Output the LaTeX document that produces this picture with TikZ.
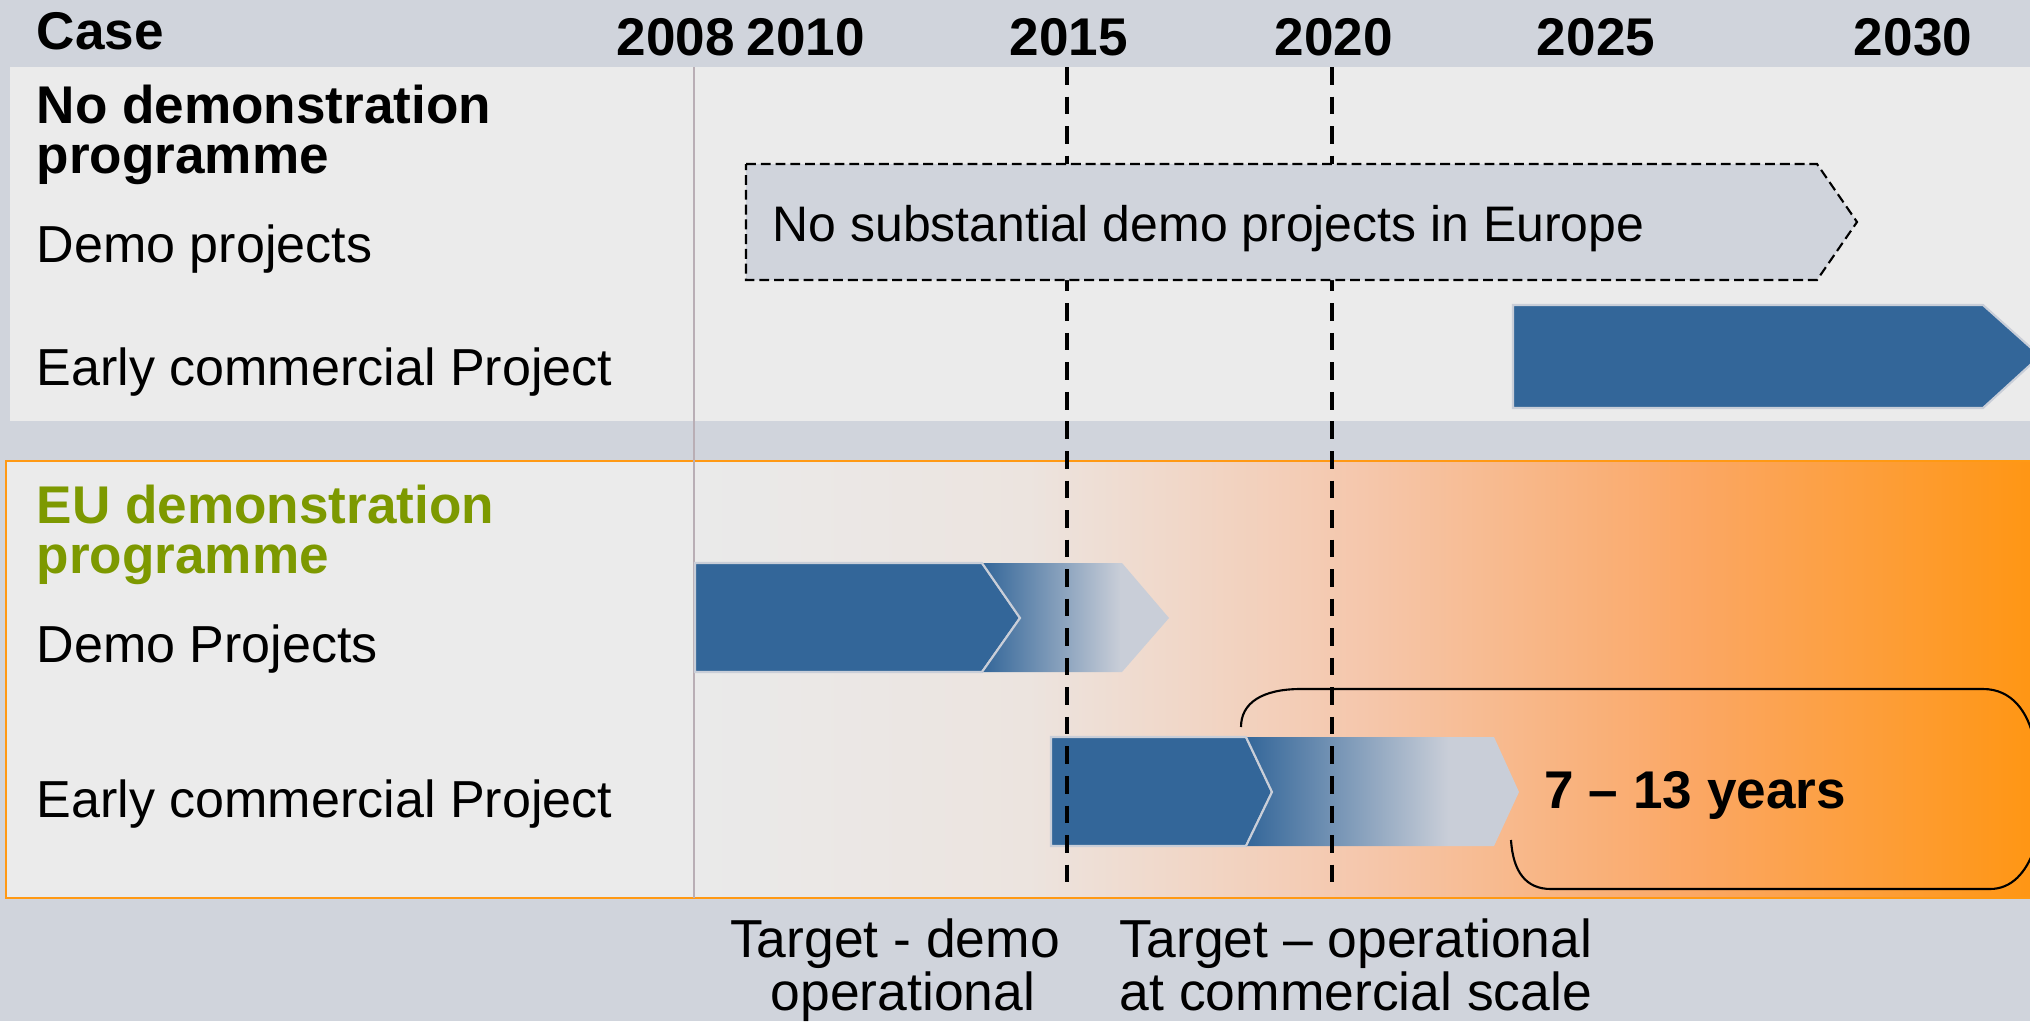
\documentclass[tikz,border=0pt]{standalone}
\usepackage{fontspec}
\setmainfont{Liberation Sans}
\usetikzlibrary{positioning}

\definecolor{bgray}{HTML}{D0D4DC}
\definecolor{lgray}{HTML}{EBEBEB}
\definecolor{barblue}{HTML}{336699}
\definecolor{fadegray}{HTML}{C9CED8}
\definecolor{eugreen}{HTML}{7D9900}
\definecolor{euorange}{HTML}{FF9914}
\definecolor{sepgray}{HTML}{B9AEB5}
\definecolor{eua}{HTML}{EAEAEA}
\definecolor{eub}{HTML}{ECE4DF}
\definecolor{euc}{HTML}{F1D6C6}
\definecolor{eud}{HTML}{F5C7AC}
\definecolor{eue}{HTML}{FBA764}
\definecolor{euf}{HTML}{FF9614}

\pgfdeclarehorizontalshading{eushade}{100bp}{color(0bp)=(eua); color(25bp)=(eua);
  color(37.5bp)=(eub); color(43.75bp)=(euc); color(50bp)=(eud);
  color(62.5bp)=(eue); color(75bp)=(euf); color(100bp)=(euf)}
\pgfdeclarehorizontalshading{fadeshade}{100bp}{color(0bp)=(barblue); color(25bp)=(barblue);
  color(62bp)=(fadegray); color(100bp)=(fadegray)}

\begin{document}
\begin{tikzpicture}[x=0.01cm, y=-0.01cm,
    lbl/.style={font=\fontsize{14.8}{17}\selectfont, inner sep=0pt, anchor=base west},
    hd/.style={lbl, font=\fontsize{15.1}{17}\selectfont\bfseries},
    yr/.style={hd, anchor=base},
    tgt/.style={lbl, anchor=base, font=\fontsize{15.2}{17}\selectfont},
    bar/.style={fill=barblue, draw=fadegray, line width=0.6pt},
    fade/.style={shading=fadeshade},
    target/.style={line width=1.1pt, dash pattern=on 5pt off 3.4pt},
    thin/.style={line width=0.6pt}]
    \useasboundingbox (0,0) rectangle (2030,1021);
    \fill[bgray] (0,0) rectangle (2030,1021);

    \fill[lgray] (10,67) rectangle (2030,421);
    \fill[lgray] (6,461) rectangle (694,898);
    \shade[shading=eushade] (694,461) rectangle (2030,898);
    \draw[euorange, line width=0.7pt] (2040,461) -- (6,461) -- (6,898) -- (2040,898);
    \draw[sepgray, line width=0.4pt] (694,67) -- (694,898);

    \node[hd] (case) at (36,50) {Case};
    \node[yr] (y08) at (676,55) {2008};
    \node[yr] (y10) at (806,55) {2010};
    \node[yr] (y15) at (1069,55) {2015};
    \node[yr] (y20) at (1334,55) {2020};
    \node[yr] (y25) at (1596,55) {2025};
    \node[yr] (y30) at (1913,55) {2030};

    \node[hd] (nodemo) at (36,123) {No demonstration};
    \node[hd] (nodemo2) at (36,173) {programme};
    \node[lbl] (nodemoproj) at (36,262) {Demo projects};
    \node[lbl] (noearly) at (36,385) {Early commercial Project};

    \node[hd, eugreen] (eudemo) at (36,523) {EU demonstration};
    \node[hd, eugreen] (eudemo2) at (36,573) {programme};
    \node[lbl] (eudemoproj) at (36,662) {Demo Projects};
    \node[lbl] (euearly) at (36,817) {Early commercial Project};

    \draw[bar] (1513,305) -- (1983,305) -- (2040,356) -- (1983,408) -- (1513,408) -- cycle;

    \draw[bar] (695,563) -- (982,563) -- (1020,618) -- (982,672) -- (695,672) -- cycle;
    \shade[fade] (982,563) -- (1122,563) -- (1169,618) -- (1122,672) -- (982,672) -- (1020,618) -- cycle;
    \draw[fadegray, thin] (982,563) -- (1020,618) -- (982,672);

    \draw[bar] (1051,737) -- (1246,737) -- (1272,792) -- (1246,846) -- (1051,846) -- cycle;
    \shade[fade] (1246,737) -- (1494,737) -- (1519,792) -- (1494,846) -- (1246,846) -- (1272,792) -- cycle;
    \draw[fadegray, thin] (1246,737) -- (1272,792) -- (1246,846);

    \draw[target] (1067,67) -- (1067,888);
    \draw[target] (1332,67) -- (1332,888);

    \draw[thin, fill=bgray, dash pattern=on 2.8pt off 1.4pt]
        (746,164) -- (1817,164) -- (1857,222) -- (1817,280) -- (746,280) -- cycle;
    \node[lbl, font=\fontsize{14.2}{17}\selectfont] (nosub) at (772,241) {No substantial demo projects in Europe};

    \draw[thin] (1241,727) .. controls (1241,703) and (1262,689) .. (1301,689)
        -- (1983,689) .. controls (2012,689) and (2028,712) .. (2034,740);
    \draw[thin] (1511,840) .. controls (1513,872) and (1526,889) .. (1551,889)
        -- (1990,889) .. controls (2012,889) and (2026,872) .. (2034,850);
    \node[hd] (span) at (1544,808) {7 -- 13 years};

    \node[tgt] (tgtdemo) at (895,957) {Target - demo};
    \node[tgt] (tgtdemo2) at (903,1010) {operational};
    \node[tgt] (tgtcomm) at (1356,957) {Target -- operational};
    \node[tgt, anchor=base west] (tgtcomm2) at (tgtcomm.base west |- 0,1010) {at commercial scale};
\end{tikzpicture}
\end{document}
